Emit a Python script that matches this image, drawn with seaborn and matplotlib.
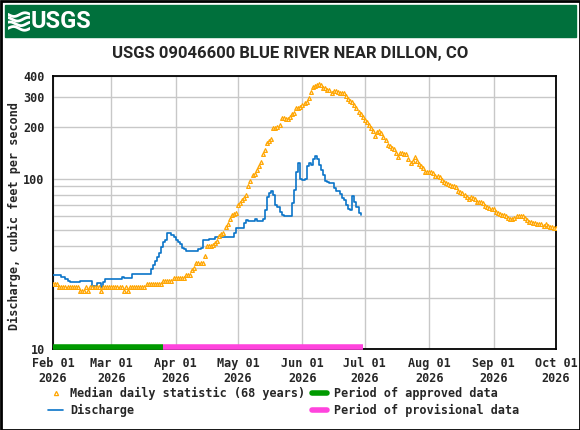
import numpy as np
import pandas as pd
import matplotlib
matplotlib.use("Agg")
import matplotlib.pyplot as plt
import matplotlib.dates as mdates
from matplotlib.ticker import FixedLocator, FixedFormatter, NullFormatter
from matplotlib.lines import Line2D
from matplotlib.patches import Rectangle
import seaborn as sns

# ---------------- data ----------------
title = "USGS 09046600 BLUE RIVER NEAR DILLON, CO"
ylabel = "Discharge, cubic feet per second"

median_start = "2026-02-01"
median_feb = [24, 24, 24, 23, 23, 23, 23, 23, 23, 23, 23, 23, 23, 22, 22, 22, 23, 22, 23, 23,
              23, 23, 23, 22, 23, 23, 23, 23]
median_mar = [23, 23, 23, 23, 23, 23, 22, 23, 22, 23, 23, 23, 23, 23, 23, 23, 23, 24, 24, 24,
              24, 24, 24, 24, 24, 25, 25, 25, 25, 25, 26]
median_apr = [26, 26, 26, 26, 26, 27, 27, 27, 29, 30, 32, 32, 32, 32, 35, 40, 40, 40, 41, 42,
              43, 46, 47, 48, 52, 54, 58, 61, 62, 63]
median_may = [70, 72, 75, 77, 80, 90, 97, 105, 106, 112, 118, 125, 139, 148, 162, 166, 171, 197,
              198, 200, 206, 226, 226, 224, 224, 230, 238, 244, 261, 261, 262]
median_jun = [272, 278, 282, 298, 323, 343, 348, 352, 357, 352, 338, 338, 330, 330, 320, 326,
              325, 323, 320, 320, 318, 307, 292, 286, 280, 270, 259, 245, 238, 229]
median_jul = [220, 214, 206, 198, 190, 178, 188, 190, 186, 175, 168, 157, 155, 151, 150, 141,
              134, 141, 141, 139, 140, 130, 124, 127, 134, 127, 122, 118, 115, 110, 110]
median_aug = [109, 110, 108, 104, 103, 102, 98, 96, 94, 93, 92, 91, 90, 89, 84, 83, 82, 80, 78,
              76, 78, 77, 76, 73, 73, 73, 72, 69, 68, 67, 66]
median_sep = [66, 64, 63, 62, 61, 61, 60, 59, 58, 58, 59, 60, 60, 60, 60, 59, 57, 56, 56, 55,
              55, 54, 54, 54, 53, 54, 53, 52, 52, 51]
median_oct = [51]

discharge_start = "2026-02-01"
discharge_feb = [27, 27, 27, 27, 26.3, 26.3, 25.6, 25.2, 24.8, 24.8, 24.8, 24.8, 24.8, 25, 25,
                 25, 25, 25, 25, 23.4, 23.4, 24.3, 24.3, 23, 24.8, 25.7, 25.7, 25.7]
discharge_mar = [25.7, 25.7, 25.7, 25.7, 25.7, 26.5, 26.2, 26.2, 26.2, 26.2, 27.4, 27.4, 27.4,
                 27.4, 27.4, 27.4, 27.4, 27.4, 27.4, 29.3, 31, 32.9, 34.5, 36.8, 39.9, 42.6,
                 43.6, 47.7, 47.7, 46.5, 45.2]
discharge_apr = [43.5, 42.6, 41.3, 39.4, 38.7, 37.5, 37.5, 37.5, 37.5, 37.5, 37.5, 38.6, 39,
                 43.4, 43.4, 43.4, 44, 44, 44, 45.3, 45.3, 45.3, 45.3, 45.3, 45.3, 45.3, 45.3,
                 45.3, 47.7, 51.3]
discharge_may = [51.3, 51.3, 51.3, 55, 57, 56.5, 56.5, 56.5, 57.8, 56.5, 56.5, 56.5, 58, 65, 78,
                 82, 84, 80, 70, 68, 64, 61, 60.5, 60.5, 60.5, 60.5, 72, 86, 110, 123, 100]
discharge_jun = [98, 99, 118, 124, 120, 130, 136, 130, 120, 112, 105, 97, 95, 94.5, 94.5, 88, 85,
                 84, 81, 77, 75, 70, 66, 65, 79, 73, 68, 63, 61]

period_edges = ["2026-02-01", "2026-03-26", "2026-06-30"]
period_labels = ["Period of approved data", "Period of provisional data"]
period_colors = ["#009a00", "#ff44dd"]

month_ticks = ["2026-02-01", "2026-03-01", "2026-04-01", "2026-05-01", "2026-06-01",
               "2026-07-01", "2026-08-01", "2026-09-01", "2026-10-01"]
y_major = [10, 100, 200, 300, 400]
y_minor = [20, 30, 40, 50, 60, 70, 80, 90]

# ---------------- frames ----------------
median_vals = (median_feb + median_mar + median_apr + median_may + median_jun +
               median_jul + median_aug + median_sep + median_oct)
median_df = pd.DataFrame({
    "date": pd.date_range(median_start, periods=len(median_vals), freq="D"),
    "cfs": median_vals,
})
dis_vals = discharge_feb + discharge_mar + discharge_apr + discharge_may + discharge_jun
dis_df = pd.DataFrame({
    "date": pd.date_range(discharge_start, periods=len(dis_vals), freq="D"),
    "cfs": dis_vals,
})

# ---------------- style ----------------
sns.set_theme(style="white")
plt.rcParams["font.family"] = ["DejaVu Sans Mono", "DejaVu Sans"]
plt.rcParams["font.weight"] = "bold"
MONO = dict(family=["DejaVu Sans Mono", "DejaVu Sans"], weight="bold", size=8.5)
NARROW = ["Roboto", "Liberation Sans", "DejaVu Sans"]

W, H = 580, 430
fig = plt.figure(figsize=(W / 100, H / 100), dpi=100)
fig.patch.set_facecolor("white")

L, R, T, B = 53, 556, 76, 349
ax = fig.add_axes([L / W, 1 - B / H, (R - L) / W, (B - T) / H])
ax.set_facecolor("white")

ORANGE = "#ffa500"
BLUE = "#0a74c8"

sns.lineplot(data=dis_df, x="date", y="cfs", ax=ax, color=BLUE, lw=1.2,
             drawstyle="steps-post", zorder=3, legend=False)
sns.scatterplot(data=median_df, x="date", y="cfs", ax=ax, marker="^", s=7,
                facecolors="white", edgecolor=ORANGE, linewidth=0.9, zorder=4, legend=False)

ax.set_yscale("log")
ax.set_ylim(10, 400)
ax.set_xlim(pd.Timestamp(month_ticks[0]), pd.Timestamp(month_ticks[-1]))

ax.yaxis.set_major_locator(FixedLocator(y_major))
ax.yaxis.set_major_formatter(FixedFormatter([str(v) for v in y_major]))
ax.yaxis.set_minor_locator(FixedLocator(y_minor))
ax.yaxis.set_minor_formatter(NullFormatter())

ax.xaxis.set_major_locator(FixedLocator(mdates.date2num(pd.to_datetime(month_ticks))))
ax.xaxis.set_major_formatter(mdates.DateFormatter("%b %d\n%Y"))

ax.grid(which="major", axis="both", color="#c8c8c8", lw=1)
ax.grid(which="minor", axis="y", color="#c8c8c8", lw=1)
ax.set_axisbelow(True)
ax.tick_params(which="both", length=0)
ax.tick_params(axis="y", pad=6)
ax.tick_params(axis="x", pad=6)
for lbl in ax.get_yticklabels() + ax.get_xticklabels():
    lbl.set_fontproperties(MONO)
for t in ax.xaxis.get_major_ticks():
    t.label1.set_linespacing(1.2)
ax.set_xlabel("")
ax.set_ylabel("")

for s in ax.spines.values():
    s.set_color("black")
    s.set_linewidth(1.3)

# approval period bars along the bottom
edges = pd.to_datetime(period_edges)
for i, c in enumerate(period_colors):
    ax.hlines(0.006, edges[i], edges[i + 1], colors=c, lw=4,
              transform=ax.get_xaxis_transform(), clip_on=False, zorder=6)

# ---------------- texts ----------------
fig.text(14 / W, 1 - 216 / H, ylabel, rotation=90, ha="center", va="center",
         family=MONO["family"], weight="bold", size=8.5)
fig.text(290 / W, 1 - 53.5 / H, title, ha="center", va="center",
         family=NARROW, weight="bold", size=12)

# header band
fig.add_artist(Rectangle((5 / W, 1 - 37 / H), 571 / W, 32 / H, transform=fig.transFigure,
                         color="#00703c", zorder=0))
fig.text(31 / W, 1 - 21.5 / H, "USGS", ha="left", va="center", color="white",
         family=NARROW, weight="bold", size=17)
logo = fig.add_axes([8 / W, 1 - 33 / H, 22 / W, 23 / H])
logo.set_axis_off()
tt = np.linspace(0, 1, 50)
for k in range(4):
    logo.plot(tt, 0.2 + 0.2 * k + 0.08 * np.sin(2 * np.pi * tt + k), color="white", lw=2)
logo.set_xlim(0, 1)
logo.set_ylim(0, 1)

# outer border
fig.add_artist(Rectangle((0.5 / W, 0.5 / H), 1 - 1 / W, 1 - 1 / H, transform=fig.transFigure,
                         fill=False, ec="black", lw=2))

# ---------------- legend ----------------
handles = [
    Line2D([], [], ls="none", marker="^", mfc="white", mec=ORANGE, ms=3, mew=0.9,
           label="Median daily statistic (68 years)"),
    Line2D([], [], color=BLUE, lw=1.2, label="Discharge"),
    Line2D([], [], color=period_colors[0], lw=4, label=period_labels[0]),
    Line2D([], [], color=period_colors[1], lw=4, label=period_labels[1]),
]
fig.legend(handles=handles, ncol=2, loc="upper left", bbox_to_anchor=(48 / W, 1 - 387 / H),
           frameon=False, prop=MONO, handlelength=1.3, handletextpad=0.55,
           columnspacing=0.6, labelspacing=0.3, borderpad=0, borderaxespad=0)

fig.savefig("out.png", dpi=100)
